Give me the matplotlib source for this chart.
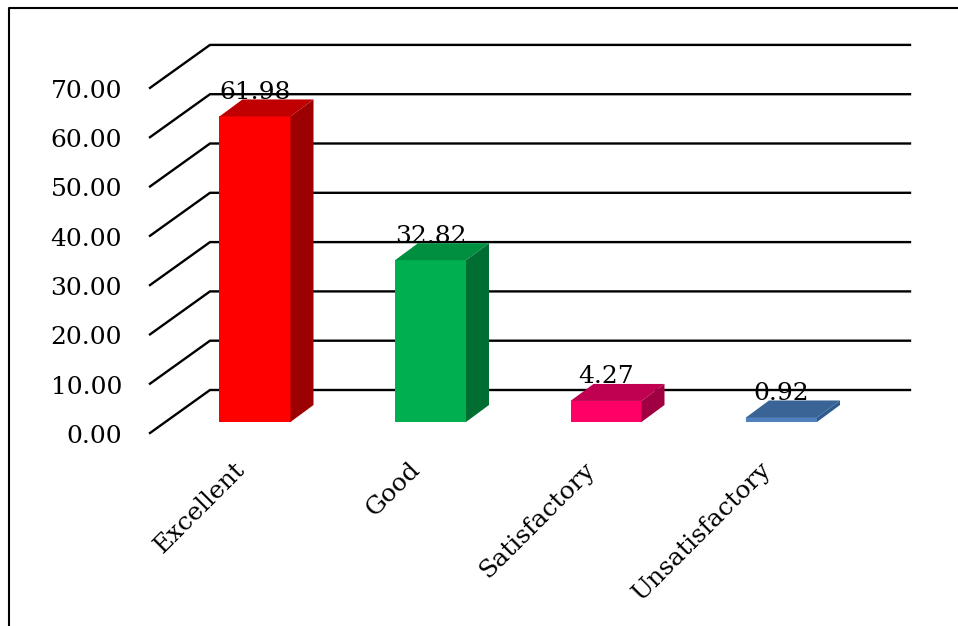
import matplotlib
matplotlib.use("Agg")
import matplotlib.pyplot as plt
from matplotlib.patches import Polygon
from matplotlib.lines import Line2D

categories = ["Excellent", "Good", "Satisfactory", "Unsatisfactory"]
values = [61.98, 32.82, 4.27, 0.92]
ticks = [0, 10, 20, 30, 40, 50, 60, 70]
front_colors = ["#ff0000", "#00b050", "#ff0066", "#4f81bd"]
top_colors = ["#c00000", "#008f41", "#c00050", "#3a6496"]
side_colors = ["#9c0000", "#006e33", "#a00042", "#2f5a8f"]

W, H = 958, 626
PX_CAT, PX_UNIT = 175.5, 4.93
X0, Y0 = 255.0, 433.0
plt.rcParams["font.family"] = ["DejaVu Serif"]
fig = plt.figure(figsize=(W / 100, H / 100), dpi=100)
ax = fig.add_axes([0, 0, 1, 1])
ax.set_xlim((0 - X0) / PX_CAT, (W - X0) / PX_CAT)
ax.set_ylim((Y0 - H) / PX_UNIT, Y0 / PX_UNIT)
ax.axis("off")
FONT = 18

# Oblique depth of the chart floor, in axis units
DX, DY = 60 / PX_CAT, 43 / PX_UNIT
wall_left = (150 - X0) / PX_CAT
wall_right = (910 - X0) / PX_CAT
for t in ticks:
    ax.plot([wall_left, wall_left + DX, wall_right], [t, t + DY, t + DY],
            color="black", lw=1.7, solid_joinstyle="miter", zorder=1)
    ax.text((122 - X0) / PX_CAT, t - 1 / PX_UNIT, f"{t:.2f}", ha="right",
            va="center_baseline", fontsize=FONT, color="black", zorder=5)

half = 35.5 / PX_CAT
base_y = 11 / PX_UNIT
dx, dy = 23 / PX_CAT, 17 / PX_UNIT
for i, v in enumerate(values):
    l, r = i - half, i + half
    b, t = base_y, base_y + v
    ax.add_patch(Polygon([(l, b), (r, b), (r, t), (l, t)], closed=True,
                         fc=front_colors[i], ec="none", zorder=3))
    ax.add_patch(Polygon([(l, t), (r, t), (r + dx, t + dy), (l + dx, t + dy)], closed=True,
                         fc=top_colors[i], ec="none", zorder=3))
    ax.add_patch(Polygon([(r, b), (r + dx, b + dy), (r + dx, t + dy), (r, t)], closed=True,
                         fc=side_colors[i], ec="none", zorder=3))
    ax.text(i, t + dy + 1.5 / PX_UNIT - 1 / PX_UNIT, f"{v:.2f}", ha="center", va="baseline",
            fontsize=FONT, color="black", zorder=6)
    ax.text(i - 14 / PX_CAT, (Y0 - 466) / PX_UNIT, categories[i], rotation=45,
            rotation_mode="anchor", ha="right", va="center",
            fontsize=FONT, color="black", zorder=5)

fig.add_artist(Line2D([8.5 / W, 8.5 / W, 1.0],
                      [0, 1 - 8 / H, 1 - 8 / H],
                      color="black", lw=1.5, transform=fig.transFigure))
fig.savefig("out.png", dpi=100, facecolor="white")
